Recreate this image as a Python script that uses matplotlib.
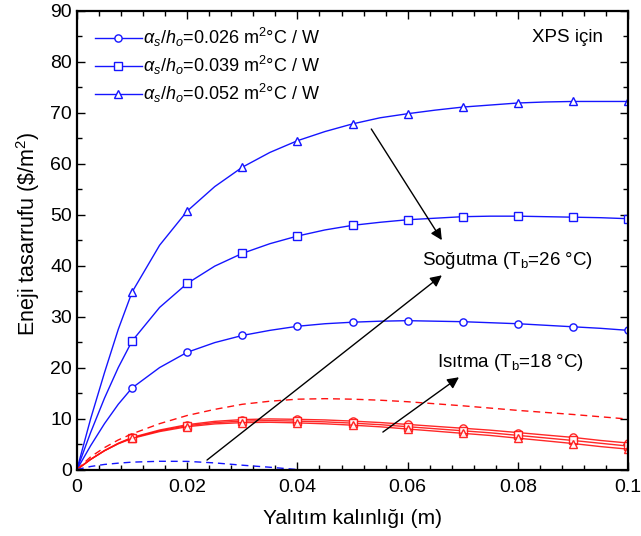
"""Enerji tasarrufu vs yalitim kalinligi (XPS)"""
import matplotlib
matplotlib.use("Agg")
import matplotlib.pyplot as plt
from matplotlib.ticker import MultipleLocator

plt.rcParams["font.family"] = ["Liberation Sans", "DejaVu Sans"]
plt.rcParams["mathtext.fontset"] = "custom"
plt.rcParams["mathtext.rm"] = "Liberation Sans"
plt.rcParams["mathtext.it"] = "Liberation Sans:italic"

# ── data ────────────────────────────────────────────────────────────────────
x = [0, 0.0025, 0.005, 0.0075, 0.01, 0.015, 0.02, 0.025, 0.03, 0.035, 0.04,
     0.045, 0.05, 0.055, 0.06, 0.065, 0.07, 0.075, 0.08, 0.085, 0.09, 0.095, 0.1]
mark_idx = [4, 6, 8, 10, 12, 14, 16, 18, 20, 22]

cool_026 = [0, 4.7, 9.0, 12.8, 16.0, 20.0, 23.0, 24.9, 26.3, 27.3, 28.1, 28.6,
            28.9, 29.1, 29.2, 29.1, 29.0, 28.8, 28.6, 28.3, 28.0, 27.7, 27.3]
cool_039 = [0, 7.3, 14.0, 20.0, 25.2, 31.8, 36.5, 39.9, 42.4, 44.3, 45.8, 47.0,
            47.9, 48.5, 49.0, 49.3, 49.6, 49.7, 49.7, 49.6, 49.5, 49.4, 49.2]
cool_052 = [0, 10.0, 19.0, 27.5, 34.8, 44.0, 50.7, 55.5, 59.3, 62.2, 64.5, 66.3,
            67.8, 69.0, 69.8, 70.5, 71.1, 71.5, 71.9, 72.1, 72.2, 72.2, 72.2]

heat_026 = [0, 2.0, 3.72, 5.15, 6.3, 7.75, 8.8, 9.45, 9.8, 9.93, 9.85, 9.73,
            9.5, 9.22, 8.85, 8.47, 8.1, 7.72, 7.25, 6.77, 6.3, 5.7, 5.2]
heat_039 = [0, 2.0, 3.7, 5.1, 6.2, 7.6, 8.6, 9.2, 9.5, 9.6, 9.5, 9.35,
            9.1, 8.8, 8.4, 8.0, 7.6, 7.2, 6.7, 6.2, 5.7, 5.15, 4.6]
heat_052 = [0, 2.0, 3.68, 5.05, 6.1, 7.45, 8.4, 8.95, 9.2, 9.27, 9.15, 8.97,
            8.7, 8.38, 7.95, 7.53, 7.1, 6.68, 6.15, 5.63, 5.1, 4.5, 4.0]

heat_dash = [0, 2.5, 4.3, 5.8, 7.0, 9.0, 10.6, 11.8, 12.8, 13.4, 13.8, 13.9,
             13.8, 13.6, 13.3, 12.9, 12.5, 12.05, 11.6, 11.2, 10.8, 10.35, 9.9]
cool_dash = [0, 0.6, 1.0, 1.25, 1.45, 1.62, 1.6, 1.3, 0.85, 0.45, 0.0]

labels = [r"$\alpha_s/h_o$=0.026 m$^2$°C / W",
          r"$\alpha_s/h_o$=0.039 m$^2$°C / W",
          r"$\alpha_s/h_o$=0.052 m$^2$°C / W"]
markers = ["o", "s", "^"]

BLUE = "#1515FF"
RED = "#FF1010"

fig = plt.figure(figsize=(6.41, 5.36), dpi=100)
ax = fig.add_axes([0.120, 0.124, 0.860, 0.856])

for y, m, lab in zip([cool_026, cool_039, cool_052], markers, labels):
    ax.plot(x, y, color=BLUE, lw=1.0, marker=m, markevery=mark_idx, ms=5.2,
            mfc="white", mec=BLUE, mew=1.0, label=lab)

for y, m in zip([heat_026, heat_039, heat_052], markers):
    ax.plot(x, y, color=RED, lw=1.0, marker=m, markevery=mark_idx, ms=5.2,
            mfc="white", mec=RED, mew=1.0, alpha=0.9)

ax.plot(x, heat_dash, color=RED, lw=1.0, dashes=(5, 3.5))
ax.plot(x[:len(cool_dash)], cool_dash, color=BLUE, lw=1.0, dashes=(5, 3.5))

# arrows and notes
arrow = dict(arrowstyle="-|>", color="black", lw=1.0, mutation_scale=17,
             shrinkA=0, shrinkB=0)
ax.annotate("", xy=(0.0662, 45.0), xytext=(0.0534, 66.8), arrowprops=arrow)
ax.annotate("", xy=(0.0662, 38.1), xytext=(0.0236, 1.86), arrowprops=arrow)
ax.annotate("", xy=(0.0693, 18.1), xytext=(0.0555, 7.35), arrowprops=arrow)

ax.text(0.0626, 41.1, "Soğutma (T$_\\mathrm{b}$=26 °C)", fontsize=13.5,
        ha="left", va="center")
ax.text(0.0653, 20.9, "Isıtma (T$_\\mathrm{b}$=18 °C)", fontsize=13.5,
        ha="left", va="center")
ax.text(0.0826, 84.8, "XPS için", fontsize=13.5, ha="left", va="center")

leg = ax.legend(loc="upper left", bbox_to_anchor=(0.0327, 0.967), frameon=False,
                fontsize=13, handlelength=2.6, handletextpad=0.08,
                labelspacing=0.27, borderaxespad=0, borderpad=0)

ax.set_xlim(0, 0.1)
ax.set_ylim(0, 90)
ax.xaxis.set_major_locator(MultipleLocator(0.02))
ax.xaxis.set_minor_locator(MultipleLocator(0.004))
ax.yaxis.set_major_locator(MultipleLocator(10))
ax.yaxis.set_minor_locator(MultipleLocator(5))
ax.set_xticks([0, 0.02, 0.04, 0.06, 0.08, 0.1])
ax.set_xticklabels(["0", "0.02", "0.04", "0.06", "0.08", "0.1"])
ax.tick_params(which="both", direction="in", top=True, right=True,
               labelsize=14, width=1.0)
ax.tick_params(which="major", length=6)
ax.tick_params(which="minor", length=3.5)
ax.tick_params(axis="x", pad=7)
for sp in ax.spines.values():
    sp.set_linewidth(1.6)

ax.set_xlabel("Yalıtım kalınlığı (m)", fontsize=15, labelpad=9)
ax.set_ylabel("Eneji tasarrufu (\\$/m$^2$)", fontsize=15.5)
ax.yaxis.set_label_coords(-0.064, 0.515)

fig.savefig("out.png", dpi=100)
